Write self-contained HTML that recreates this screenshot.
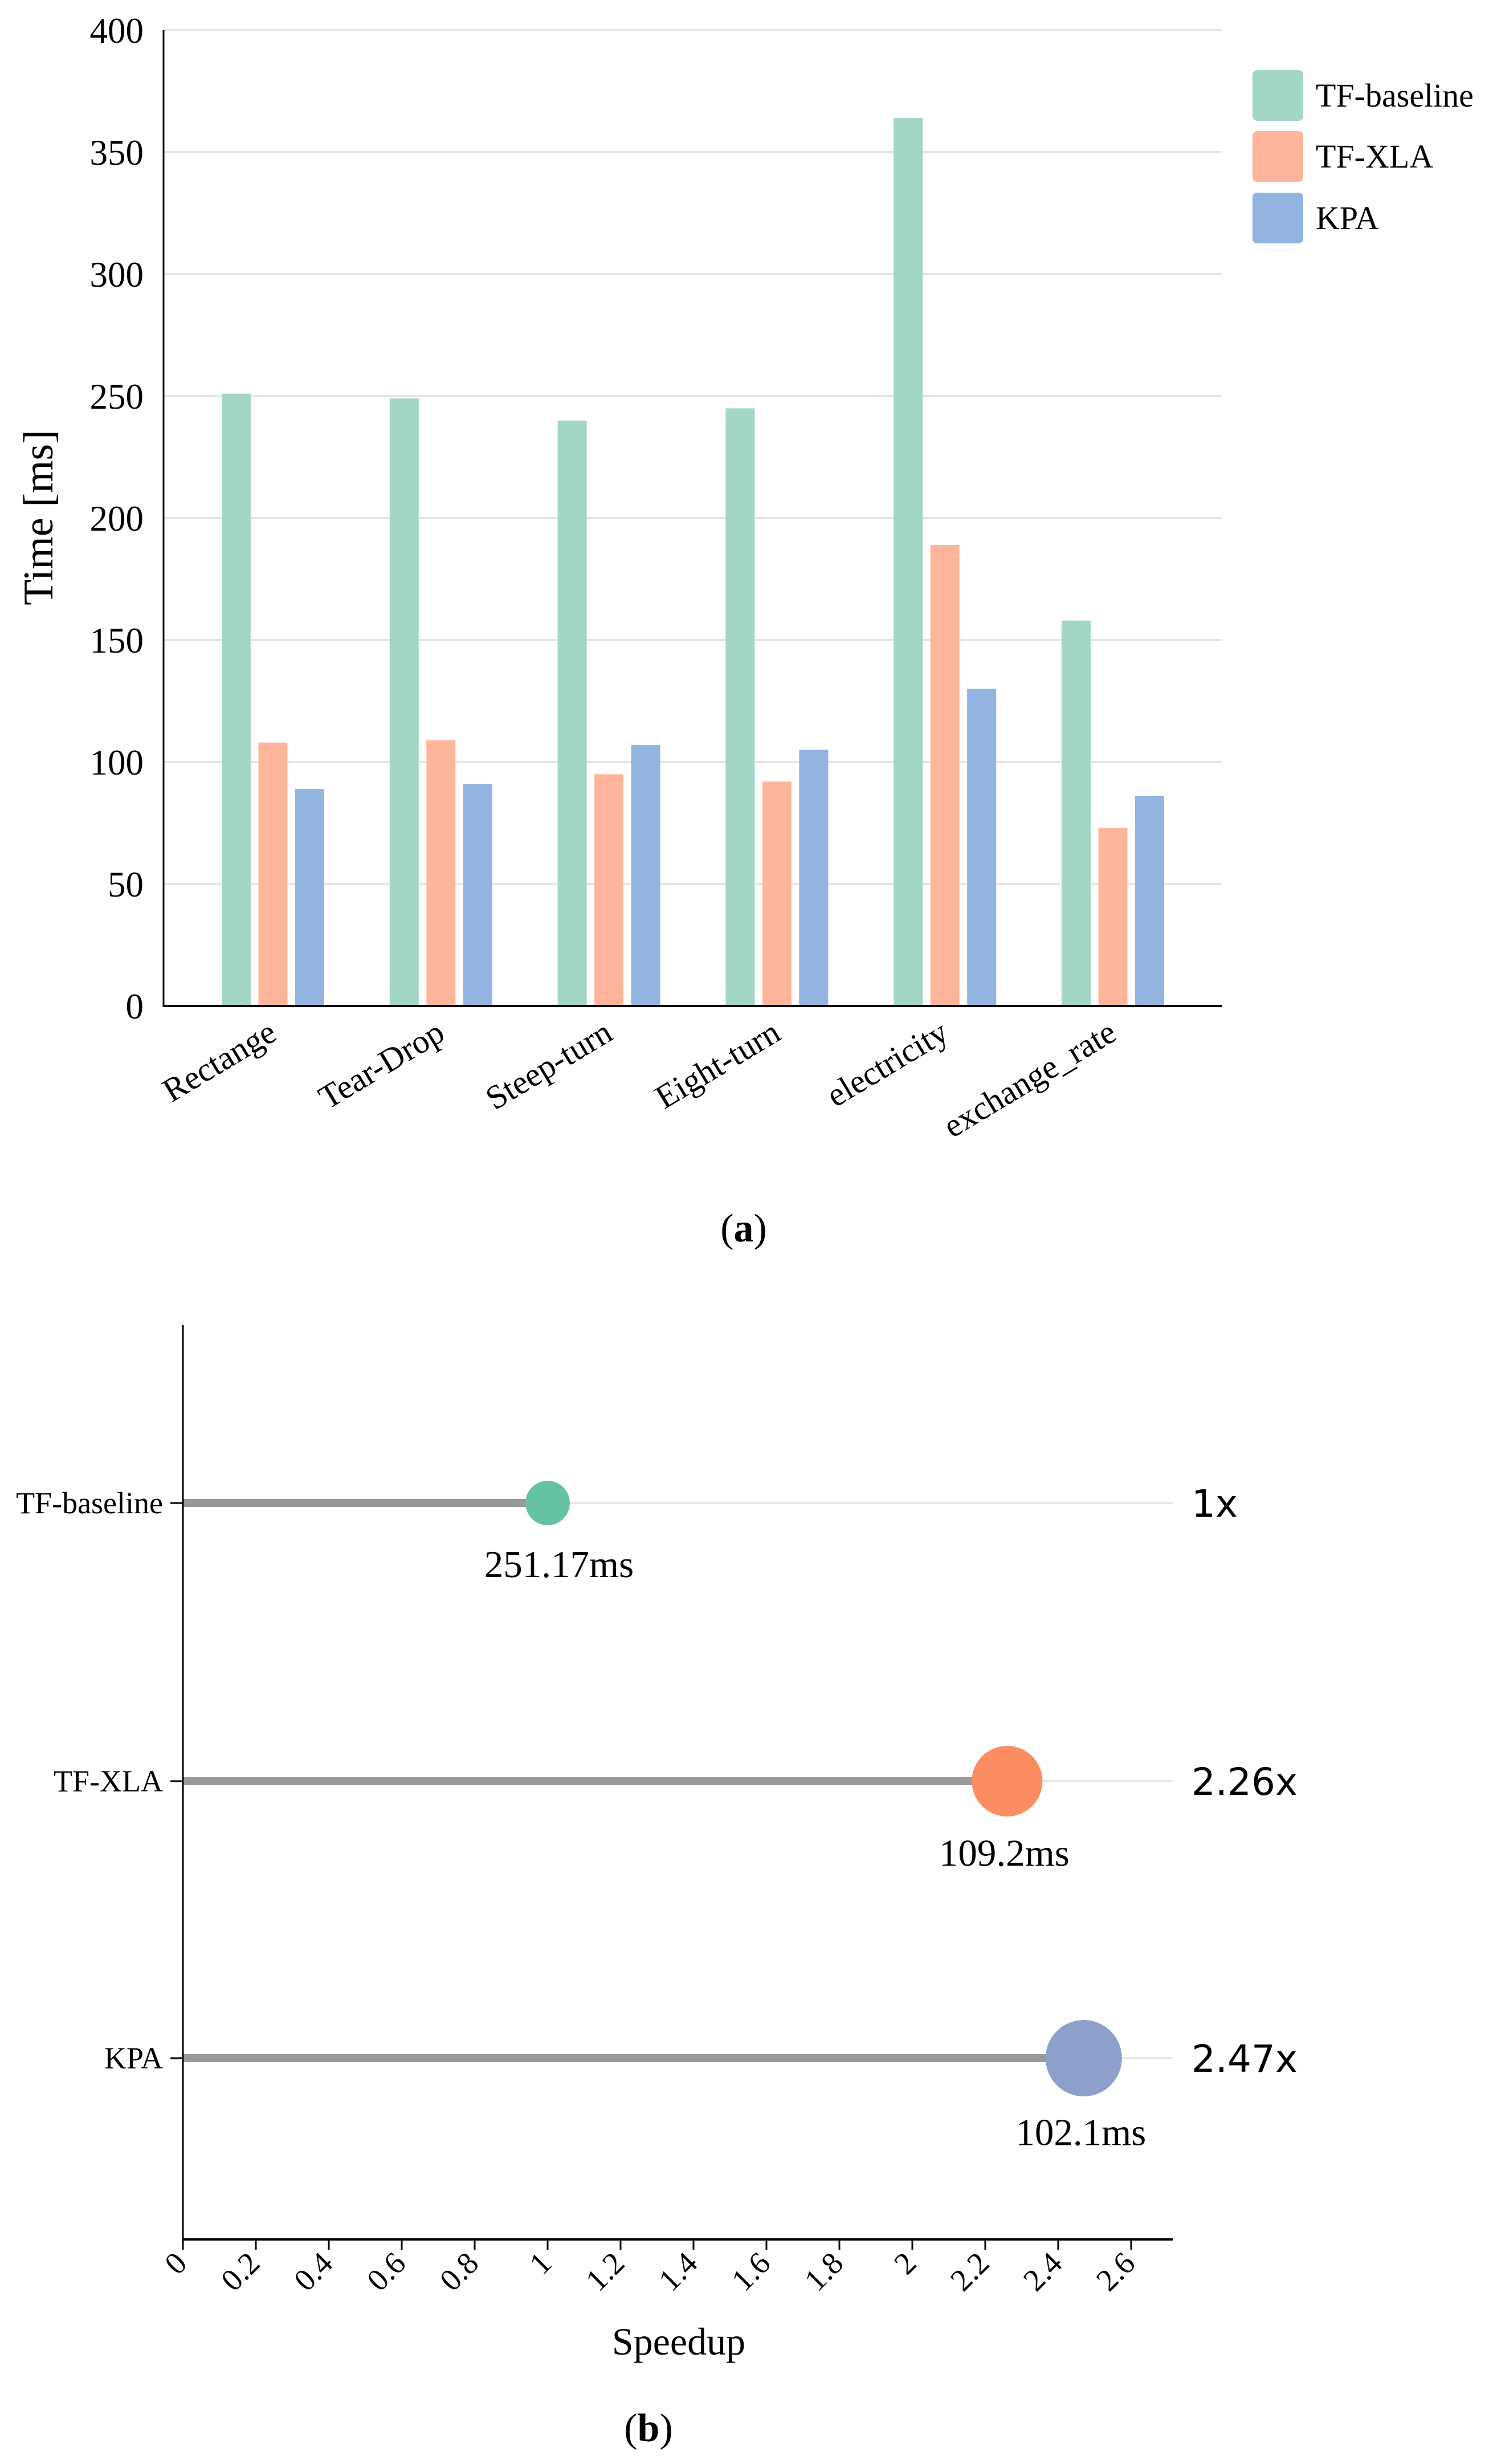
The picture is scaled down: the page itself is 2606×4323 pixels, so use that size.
<!DOCTYPE html>
<html><head><meta charset="utf-8"><style>
html,body{margin:0;padding:0;background:#fff;}
svg{display:block;}
text{font-family:"Liberation Serif",serif;fill:#000;}
</style></head><body>
<svg id="svg" width="2606" height="4323" viewBox="0 0 2606 4323" xmlns="http://www.w3.org/2000/svg">
<g id="chartA"></g>
<g id="chartB"></g>
</svg>
<script>
// ---- Chart (a) data ----
const categories = ["Rectange","Tear-Drop","Steep-turn","Eight-turn","electricity","exchange_rate"];
const seriesNames = ["TF-baseline","TF-XLA","KPA"];
const tfBaseline = [251,249,240,245,364,158];
const tfXla = [108,109,95,92,189,73];
const kpa = [89,91,107,105,130,86];
const yTicks = [0,50,100,150,200,250,300,350,400];
// ---- Chart (b) data ----
const methods = ["TF-baseline","TF-XLA","KPA"];
const speedups = [1,2.26,2.47];
const timeLabels = ["251.17ms","109.2ms","102.1ms"];
const speedupLabels = ["1x","2.26x","2.47x"];
const xTicks = [0,0.2,0.4,0.6,0.8,1,1.2,1.4,1.6,1.8,2,2.2,2.4,2.6];

const NS="http://www.w3.org/2000/svg";
function mk(parent,tag,attrs,txt){const e=document.createElementNS(NS,tag);for(const k in attrs)e.setAttribute(k,attrs[k]);if(txt!==undefined)e.textContent=txt;parent.appendChild(e);return e;}

// ===== Chart A =====
const A=document.getElementById('chartA');
const aL=287,aR=2144,aTop=53,aBot=1765;
const ay=v=>aBot-(v/400)*(aBot-aTop);
const groupCx=i=>479+i*294.8;
const colorsA=["#a3d7c5","#ffb59b","#92b4e0"];
const seriesA=[tfBaseline,tfXla,kpa];
yTicks.forEach(t=>{
  if(t>0){const g=mk(A,'line',{x1:aL,x2:aR,y1:ay(t),y2:ay(t),stroke:'#e6e6e6','stroke-width':4});
  
  }
  const l=mk(A,'text',{x:252,y:ay(t)+22,'text-anchor':'end','font-size':63},String(t));
  
  
});
seriesA.forEach((s,si)=>{
  s.forEach((v,ci)=>{
    const x=groupCx(ci)-90+si*64.5;
    const r=mk(A,'rect',{x:x,y:ay(v),width:51,height:aBot-ay(v),fill:colorsA[si]});
    
    
  });
});
let ax=mk(A,'line',{x1:aL,x2:aL,y1:aTop,y2:aBot+2,stroke:'#000','stroke-width':3});


ax=mk(A,'line',{x1:aL-1,x2:aR,y1:aBot,y2:aBot,stroke:'#000','stroke-width':4});


categories.forEach((c,i)=>{
  const x=groupCx(i)+10,y=1822;
  const t=mk(A,'text',{x:x,y:y,'text-anchor':'end','font-size':59,transform:`rotate(-31 ${x} ${y})`},c);
  
  
});
let yt=mk(A,'text',{x:92,y:908,'text-anchor':'middle','font-size':74,transform:'rotate(-90 92 908)'},'Time [ms]');


const legY=[123,230,338];
seriesNames.forEach((n,i)=>{
  const r=mk(A,'rect',{x:2198,y:legY[i],width:89,height:89,rx:8,fill:colorsA[i]});
  
  
  const t=mk(A,'text',{x:2309,y:legY[i]+64,'font-size':58},n);
  
  
});
const capA=mk(A,'text',{x:1305,y:2178,'text-anchor':'middle','font-size':70});
capA.innerHTML='(<tspan font-weight="bold">a</tspan>)';



// ===== Chart B =====
const B=document.getElementById('chartB');
const bL=321,bR=2058,bTop=2325,bBot=3929;
const bx=v=>bL+v*640;
const rowY=[2637,3125,3611];
const colorsB=["#66c2a5","#fc8d62","#8da0cb"];
const radii=[39,62,67];
methods.forEach((m,i)=>{
  const y=rowY[i];
  let g=mk(B,'line',{x1:bL,x2:bR,y1:y,y2:y,stroke:'#e8e8e8','stroke-width':4});
  
  
  let s=mk(B,'line',{x1:bL,x2:bx(speedups[i]),y1:y,y2:y,stroke:'#999999','stroke-width':14});
  
  
  let c=mk(B,'circle',{cx:bx(speedups[i]),cy:y,r:radii[i],fill:colorsB[i]});
  
  
  let tk=mk(B,'line',{x1:bL-22,x2:bL,y1:y,y2:y,stroke:'#000','stroke-width':3});
  
  
  let yl=mk(B,'text',{x:286,y:y+18,'text-anchor':'end','font-size':54},m);
  
  
  let tl=mk(B,'text',{x:bx(speedups[i])+(i===0?20:-5),y:y+130+(radii[i]-39)*0.8,'text-anchor':'middle','font-size':67},timeLabels[i]);
  
  
  let sl=mk(B,'text',{x:2091,y:y+24,'font-size':66,style:'font-family:"DejaVu Sans",sans-serif'},speedupLabels[i]);
  
  
});
ax=mk(B,'line',{x1:bL,x2:bL,y1:bTop,y2:bBot,stroke:'#000','stroke-width':3});


ax=mk(B,'line',{x1:bL-1,x2:bR,y1:bBot,y2:bBot,stroke:'#000','stroke-width':4});


xTicks.forEach(v=>{
  const x=bx(v);
  let t=mk(B,'line',{x1:x,x2:x,y1:bBot,y2:bBot+18,stroke:'#000','stroke-width':3});
  
  
  const lx=x+10,ly=3974;
  let l=mk(B,'text',{x:lx,y:ly,'text-anchor':'end','font-size':55,transform:`rotate(-45 ${lx} ${ly})`},String(v));
  
  
});
let xt=mk(B,'text',{x:1191,y:4131,'text-anchor':'middle','font-size':68},'Speedup');


const capB=mk(B,'text',{x:1138,y:4283,'text-anchor':'middle','font-size':70});
capB.innerHTML='(<tspan font-weight="bold">b</tspan>)';


</script>
</body></html>
